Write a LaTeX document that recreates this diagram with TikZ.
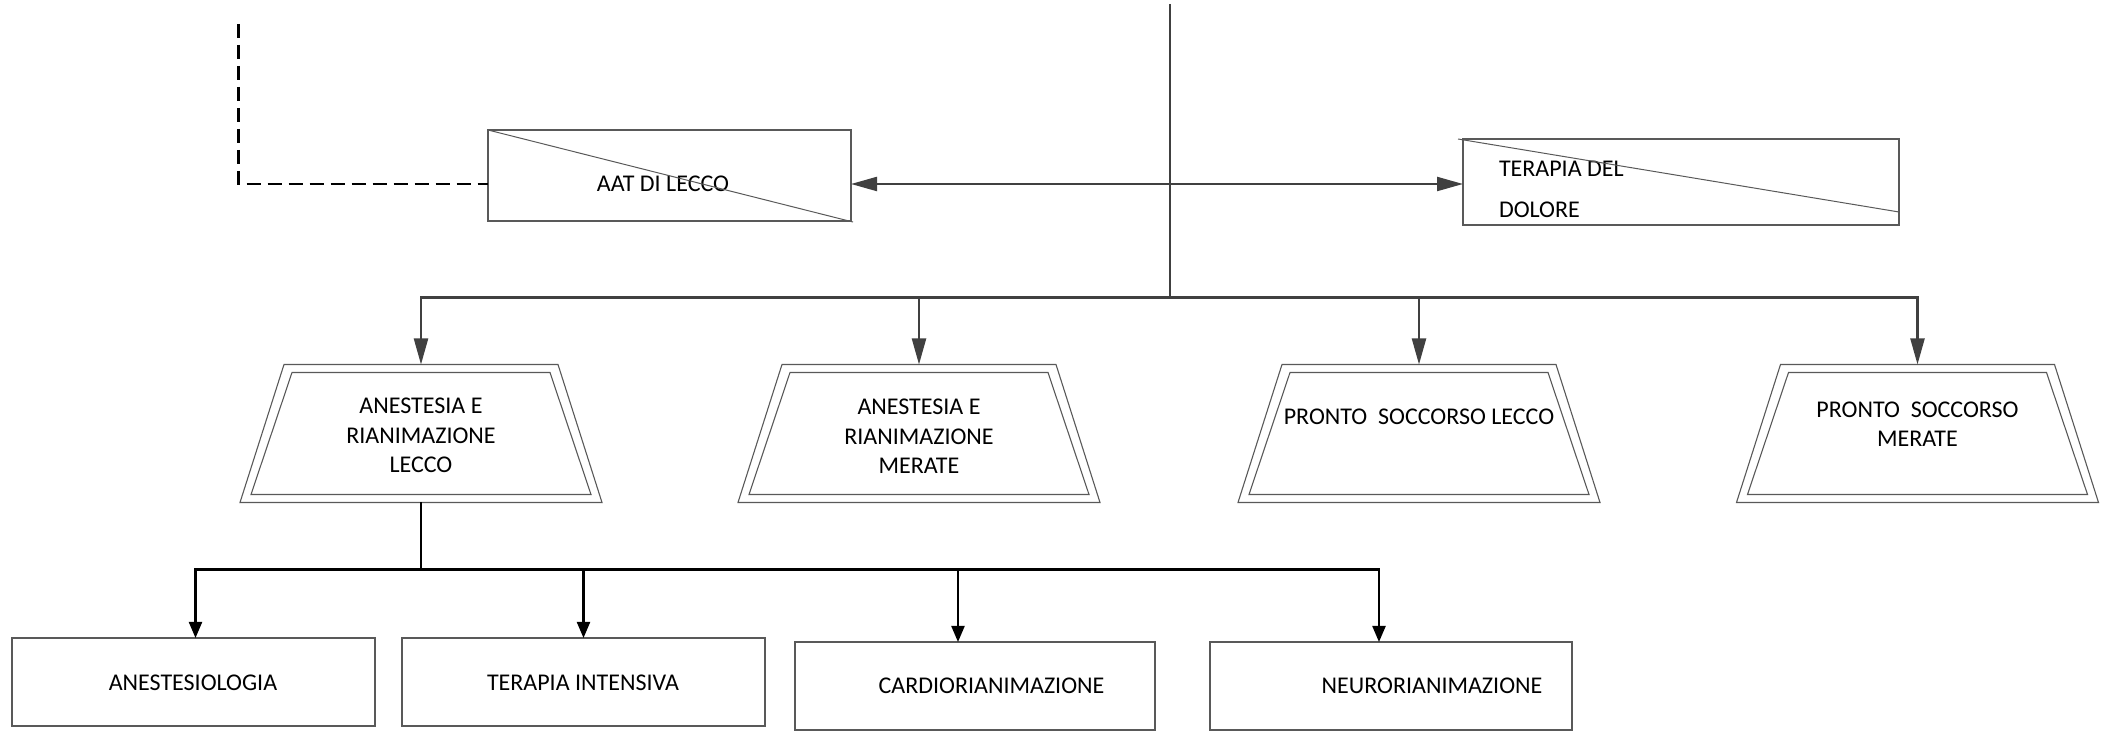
\documentclass[tikz,border=0pt]{standalone}
\usepackage{fontspec}
\setmainfont{Carlito}
\usetikzlibrary{arrows.meta,calc}
\definecolor{conn}{HTML}{404040}
\definecolor{boxline}{HTML}{595959}
\begin{document}
\begin{tikzpicture}[x=0.5pt,y=-0.5pt,
  every node/.style={font=\fontsize{12}{14.75}\selectfont, inner sep=0pt, outer sep=0pt},
  box/.style={draw=boxline, line width=0.6pt, rectangle},
  trap/.style={rectangle, minimum width=181pt, minimum height=69pt},
  txt/.style={align=center},
  upconn/.style={draw=conn, line width=1.1pt, -{Triangle[length=13pt,width=7pt]}},
  upline/.style={draw=conn, line width=1.1pt},
  loconn/.style={draw=black, line width=1.1pt, -{Triangle[length=8pt,width=6.5pt]}},
  diag/.style={draw=boxline, line width=0.5pt},
  trapline/.style={draw=boxline, line width=0.55pt}
]
\useasboundingbox (0,0) rectangle (2101,732);

% top boxes
\node[box, minimum width=181.5pt, minimum height=45.5pt] (aat) at (669.5,175.5) {};
\node (aattxt) at (663,184) {AAT DI LECCO};
\draw[diag] (aat.north west) -- ($(aat.south east)+(2,1)$);

\node[box, minimum width=218pt, minimum height=43pt] (ter) at (1681,182) {};
\node[anchor=west] (tertxt1) at (1499,169) {TERAPIA DEL};
\node[anchor=west] (tertxt2) at (1499,210) {DOLORE};
\draw[diag] ($(ter.north west)+(-5,0)$) -- ($(ter.south east)+(0,-13)$);

% hub and main line
\coordinate (top) at (1170,4);
\coordinate (hub) at (1170,184);
\coordinate (bus) at (1170,297.5);
\draw[upline] (top) -- (bus);
\draw[draw=conn, line width=1.1pt, {Triangle[length=13pt,width=7pt]}-{Triangle[length=13pt,width=7pt]}] (aat.east |- hub) -- (ter.west |- hub);

% dashed line
\coordinate (dtop) at (238.5,24);
\draw[black, line width=1.2pt, dash pattern=on 7pt off 3.5pt] (dtop) |- (aat.west |- hub);

% trapezoids
\node[trap] (t1) at (421,433.5) {};
\node[trap] (t2) at (919,433.5) {};
\node[trap] (t3) at (1419,433.5) {};
\node[trap] (t4) at (1917.5,433.5) {};
\foreach \n in {t1,t2,t3,t4}{
  \draw[trapline] ($(\n.north)+(-137,0)$) -- ($(\n.north)+(137,0)$) -- ($(\n.south)+(181,0)$) -- ($(\n.south)+(-181,0)$) -- cycle;
  \draw[trapline] ($(\n.north)+(-129,8)$) -- ($(\n.north)+(129,8)$) -- ($(\n.south)+(170,-8)$) -- ($(\n.south)+(-170,-8)$) -- cycle;
}
\node[txt] (t1txt) at (421,435.5) {ANESTESIA E\\RIANIMAZIONE\\LECCO};
\node[txt] (t2txt) at (919,436.5) {ANESTESIA E\\RIANIMAZIONE\\MERATE};
\node[txt] (t3txt) at (1419,417) {PRONTO\ \ SOCCORSO LECCO};
\node[txt] (t4txt) at (1917.5,424) {PRONTO\ \ SOCCORSO\\MERATE};

\foreach \n in {t1,t2,t3,t4}{
  \draw[upconn] (bus) -| (\n.north);
}

% bottom boxes
\node[box, minimum width=181.5pt, minimum height=44pt] (b1) at (193.5,682) {};
\node[box, minimum width=181.5pt, minimum height=44pt] (b2) at (583.5,682) {};
\node[box, minimum width=180pt, minimum height=44pt] (b3) at (975,686) {};
\node[box, minimum width=181pt, minimum height=44pt] (b4) at (1391,686) {};
\node (b1txt) at (193,683) {ANESTESIOLOGIA};
\node (b2txt) at (583,683) {TERAPIA INTENSIVA};
\node (b3txt) at (991.5,686) {CARDIORIANIMAZIONE};
\node (b4txt) at (1432,686) {NEURORIANIMAZIONE};

\coordinate (bus2) at (421,569.5);
\draw[black, line width=1.1pt] (t1.south) -- (bus2);
\draw[loconn] (bus2) -| ($(b1.north)+(2,0)$);
\draw[loconn] (bus2) -| (b2.north);
\draw[loconn] (bus2) -| ($(b3.north)+(-17,0)$);
\draw[loconn] (bus2) -| ($(b4.north)+(-12,0)$);
\end{tikzpicture}
\end{document}
